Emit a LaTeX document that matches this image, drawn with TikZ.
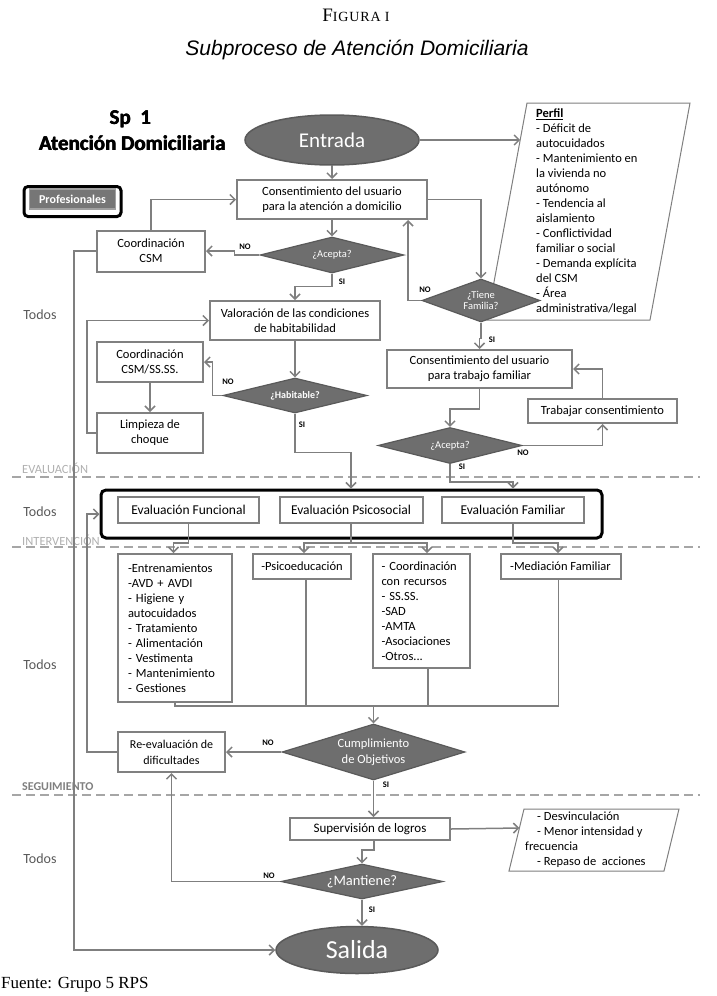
\documentclass[tikz,border=0pt]{standalone}
\usepackage{fontspec}
\setmainfont{Carlito}
\newfontfamily\tnr{Liberation Serif}
\newfontfamily\ars{Liberation Sans}
\usetikzlibrary{shapes.geometric,arrows.meta,calc}
\definecolor{ln}{HTML}{7F7F7F}
\definecolor{bx}{HTML}{808080}
\definecolor{dk}{HTML}{6E6E6E}
\definecolor{dkb}{HTML}{5A5A5A}
\definecolor{txg}{HTML}{595959}
\definecolor{dsh}{HTML}{A6A6A6}
\definecolor{phl}{HTML}{B0B0B0}
\definecolor{pg}{HTML}{767676}
\definecolor{pgb}{HTML}{A0A0A0}
\begin{document}
\begin{tikzpicture}[x=1pt,y=-1pt,
 conn/.style={draw=ln, line width=1.5pt, -{Straight Barb[length=5pt,width=10pt]}},
 plain/.style={draw=ln, line width=1.5pt},
 pbox/.style={draw=bx, line width=2pt, fill=white, align=center, inner sep=0pt, font=\fontsize{12.5}{15}\selectfont},
 dia/.style={diamond, draw=dkb, line width=1.2pt, fill=dk, inner sep=0pt, text=white, align=center},
 ell/.style={ellipse, draw=dkb, line width=1.5pt, fill=dk, text=white, inner sep=0pt},
 yn/.style={font=\fontsize{8.5}{9}\selectfont\bfseries, inner sep=0pt},
 todos/.style={text=txg, font=\fontsize{14}{16}\selectfont, inner sep=0pt},
 phase/.style={font=\fontsize{12.5}{13}\selectfont, anchor=west, inner sep=0pt},
 sepline/.style={draw=dsh, line width=2.2pt, dash pattern=on 9pt off 5pt},
 par/.style={draw=ln, line width=1pt, fill=white},
 ptext/.style={anchor=north west, align=left, inner sep=0pt, font=\fontsize{12.5}{15}\selectfont},
 head/.style={font=\bfseries\fontsize{21}{22}\selectfont, inner sep=0pt}
]
\useasboundingbox (0,0) rectangle (716,996);

% titles
\node[font=\tnr] (fig) at (356,15) {{\fontsize{19}{19}\selectfont F}{\fontsize{14}{14}\selectfont\addfontfeature{LetterSpace=6}IGURA I}};
\node[font=\ars\itshape\fontsize{21}{24}\selectfont] (sub) at (357,50) {Subproceso de Atención Domiciliaria};
\node[head] (sp) at (130,119) {Sp\ \ 1};
\node[head] (spb) at (130.6,119) {Sp\ \ 1};
\node[head] (spc) at (130.3,119.5) {Sp\ \ 1};
\node[head] (sptitle) at (132,143) {Atención Domiciliaria};
\node[head] (sptitleb) at (132.6,143) {Atención Domiciliaria};
\node[head] (sptitlec) at (132.3,143.5) {Atención Domiciliaria};
\node[draw=black, line width=3pt, rounded corners=4pt, minimum width=97pt, minimum height=30pt, inner sep=0pt] (prof) at (72.5,201.5) {};
\node[fill=pg, draw=pgb, line width=1.2pt, minimum width=86pt, minimum height=20pt, text=white, font=\bfseries\fontsize{12}{13}\selectfont, inner sep=0pt] (profin) at (72.5,199) {Profesionales};

% phase separators
\draw[sepline] (12,477) -- (700,477);
\draw[sepline] (12,547) -- (700,547);
\draw[sepline] (12,795) -- (700,795);
\node[phase, text=phl] (ev) at (22,468) {EVALUACIÓN};
\node[phase, text=phl] (iv) at (22,540) {INTERVENCIÓN};
\node[phase, text=ln, font=\bfseries\fontsize{12}{12}\selectfont] (sg) at (22,787) {SEGUIMIENTO};
\node[todos] (t1) at (40,315) {Todos};
\node[todos] (t2) at (40,512) {Todos};
\node[todos] (t3) at (40,665) {Todos};
\node[todos] (t4) at (40,859) {Todos};

% top part
\node[ell, minimum width=174pt, minimum height=50pt, font=\fontsize{21}{21}\selectfont] (entrada) at (332,140) {Entrada};
\node[pbox, minimum width=190pt, minimum height=39pt] (cons1) at (332,199.5) {Consentimiento del usuario\\para la atención a domicilio};
\node[dia, aspect=4, minimum width=144pt, minimum height=36pt, font=\fontsize{10.5}{11}\selectfont] (acep1) at (332,255) {¿Acepta?};
\node[pbox, minimum width=108pt, minimum height=41pt] (coordcsm) at (151,251) {Coordinación\\CSM};

\draw[par] (527,103) -- (690,103) -- (650,320) -- (487,320) -- cycle;
\node[ptext] (perfil) at (536,109) {\underline{\textbf{Perfil}}\\- Déficit de\\autocuidados\\- Mantenimiento en\\la vivienda no\\autónomo\\- Tendencia al\\aislamiento\\- Conflictividad\\familiar o social\\- Demanda explícita\\del CSM\\- Área\\administrativa/legal};
\coordinate (pin) at (520.2,140);
\node[dia, aspect=2.74, minimum width=118pt, minimum height=43pt, font=\fontsize{10.5}{11}\selectfont] (tiene) at (481,300.5) {¿Tiene\\Familia?};

\node[pbox, minimum width=170pt, minimum height=39pt] (valor) at (295,320.5) {Valoración de las condiciones\\de habitabilidad};
\node[pbox, minimum width=106pt, minimum height=40pt] (coordss) at (150,362) {Coordinación\\CSM/SS.SS.};
\node[pbox, minimum width=106pt, minimum height=40pt] (limp) at (150,433) {Limpieza de\\choque};
\node[dia, aspect=4.1, minimum width=144pt, minimum height=35pt, font=\bfseries\fontsize{10}{11}\selectfont] (habit) at (295,395.5) {¿Habitable?};
\node[pbox, minimum width=185pt, minimum height=38pt] (consfam) at (479.5,369) {Consentimiento del usuario\\para trabajo familiar};
\node[pbox, minimum width=149pt, minimum height=24pt] (trab) at (602.5,411) {Trabajar consentimiento};
\node[dia, aspect=4, minimum width=144pt, minimum height=36pt, font=\fontsize{10.5}{11}\selectfont] (acep2) at (450,445.5) {¿Acepta?};

% evaluation
\node[draw=black, line width=3pt, rounded corners=5pt, minimum width=501pt, minimum height=48pt, inner sep=0pt] (bigbox) at (351.5,514) {};
\node[pbox, minimum width=141pt, minimum height=26pt, font=\fontsize{13.5}{15}\selectfont] (efun) at (188.5,510) {Evaluación Funcional};
\node[pbox, minimum width=143pt, minimum height=26pt, font=\fontsize{13.5}{15}\selectfont] (epsi) at (351,510) {Evaluación Psicosocial};
\node[pbox, minimum width=142pt, minimum height=26pt, font=\fontsize{13.5}{15}\selectfont] (efam) at (513,510) {Evaluación Familiar};

% intervention
\node[pbox, align=left, text width=94pt, inner xsep=10pt, inner ysep=0pt, minimum height=148pt] (entr) at (175,628) {-Entrenamientos\\-AVD + AVDI\\- Higiene y\\autocuidados\\- Tratamiento\\- Alimentación\\- Vestimenta\\- Mantenimiento\\- Gestiones};
\node[pbox, minimum width=98pt, minimum height=25pt] (psico) at (302,566.5) {-Psicoeducación};
\node[pbox, align=left, text width=79pt, inner xsep=9pt, inner ysep=0pt, minimum height=114pt] (coordrec) at (421,611) {- Coordinación\\con recursos\\- SS.SS.\\-SAD\\-AMTA\\-Asociaciones\\-Otros...};
\node[pbox, minimum width=120pt, minimum height=25pt] (media) at (560.5,566.5) {-Mediación Familiar};

\node[dia, aspect=3.27, minimum width=183pt, minimum height=56pt, font=\fontsize{12.5}{16}\selectfont] (cumpl) at (373.5,752) {Cumplimiento\\de Objetivos};
\node[pbox, minimum width=107pt, minimum height=40pt, font=\fontsize{12}{16}\selectfont] (reeval) at (171.5,752) {Re-evaluación de\\dificultades};

% follow-up
\node[pbox, minimum width=160pt, minimum height=22pt, font=\fontsize{13}{14}\selectfont] (superv) at (370,829) {Supervisión de logros};
\draw[par] (524,809) -- (679,809) -- (664,871) -- (509,871) -- cycle;
\node[ptext, font=\fontsize{12.5}{15}\selectfont] (res) at (525,812) {\hspace*{12pt}- Desvinculación\\\hspace*{12pt}- Menor intensidad y\\frecuencia\\\hspace*{12pt}- Repaso de\ \ acciones};
\coordinate (pin2) at (519.4,828);
\node[dia, aspect=4.6, minimum width=162pt, minimum height=35pt, font=\fontsize{14.5}{15}\selectfont] (mant) at (362,881.5) {¿Mantiene?};
\node[ell, minimum width=162pt, minimum height=47pt, font=\fontsize{26}{26}\selectfont] (salida) at (357,950) {Salida};

\node[font=\tnr\fontsize{17}{18}\selectfont, anchor=west, inner sep=0pt] (src) at (1,985) {Fuente: Grupo 5 RPS};

% connectors
\draw[conn] (entrada) -- (cons1);
\draw[conn] (entrada.east) -- (pin);
\draw[conn] (cons1) -- (acep1);
\draw[conn] (acep1.west) -- ++(-25,0) |- (coordcsm.east);
\draw[conn] (coordcsm.north) |- (cons1.west);
\draw[conn] (coordcsm.west) -- ++(-22,0) |- (salida.west);
\draw[conn] (cons1.east) -| (tiene.north);
\draw[conn] (tiene.west) -| ([xshift=-20pt]cons1.south east);
\draw[conn] (tiene.south) -- ++(0,16) -| (consfam.north);
\draw[conn] (acep1.south) -- ++(0,13) -| (valor.north);
\draw[conn] (valor) -- (habit);
\draw[conn] (habit.west) -- ++(-10,0) |- (coordss.east);
\draw[conn] (coordss) -- (limp);
\draw[conn] (limp.west) -- ++(-9,0) |- (valor.west);
\draw[conn] (habit.south) -- ++(0,39) -| (epsi.north |- bigbox.north);
\draw[conn] (consfam.south) -- ++(0,20) -| (acep2.north);
\draw[conn] (acep2.east) -| (trab.south);
\draw[conn] (trab.north) |- (consfam.east);
\draw[conn] (acep2.south) -- ++(0,18) -| (efam.north |- bigbox.north);
\draw[conn] (efun.south) -- ++(0,19) -| ([xshift=-1.5pt]entr.north);
\draw[conn] (epsi.south) -- ++(0,19) -| ([xshift=2pt]psico.north);
\draw[conn] (epsi.south) -- ++(0,19) -| ([xshift=6pt]coordrec.north);
\draw[conn] (efam.south) -- ++(0,19) -| ([xshift=-2.5pt]media.north);
\coordinate (join) at (373.5,706);
\draw[plain] (entr.south) |- (join);
\draw[plain] ([xshift=4pt]psico.south) |- (join);
\draw[plain] ([xshift=7pt]coordrec.south) |- (join);
\draw[plain] ([xshift=-2pt]media.south) |- (join);
\draw[conn] (join) -- (cumpl.north);
\draw[conn] (cumpl.west) -- (reeval.east);
\draw[conn] (reeval.west) -- ++(-30,0) |- (bigbox.west);
\draw[conn] (cumpl.south) -- (cumpl.south |- superv.north);
\draw[conn] (superv.east) -- (pin2);
\draw[conn] ([xshift=4pt]superv.south) -- ++(0,9) -| (mant.north);
\draw[conn] (mant.west) -| (reeval.south);
\draw[conn] (mant.south) -- (mant.south |- salida.north);

% yes/no labels
\node[yn] (n1) at (245,247) {NO};
\node[yn] (s1) at (342,282) {SI};
\node[yn] (n2) at (425,290) {NO};
\node[yn] (s2) at (492,340) {SI};
\node[yn] (n3) at (228,382) {NO};
\node[yn] (s3) at (302,425) {SI};
\node[yn] (n4) at (523,453) {NO};
\node[yn] (s4) at (462,467) {SI};
\node[yn] (n5) at (268,743) {NO};
\node[yn] (s5) at (386,785) {SI};
\node[yn] (n6) at (269,876) {NO};
\node[yn] (s6) at (372,910) {SI};
\end{tikzpicture}
\end{document}
